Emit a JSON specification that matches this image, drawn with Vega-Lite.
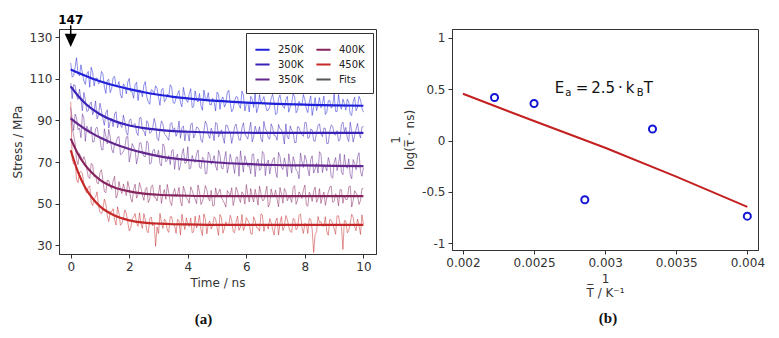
{
"$schema":"https://vega.github.io/schema/vega-lite/v6.json",
"background":"white",
"padding":{"left":10,"top":13,"right":5,"bottom":5},
"spacing":12,
"config":{
 "font":"DejaVu Sans",
 "view":{"stroke":"#333333","strokeWidth":1},
 "axis":{"grid":false,"labelFont":"DejaVu Sans","labelFontSize":12,"labelColor":"#333333","titleFont":"DejaVu Sans","titleFontSize":12,"titleFontWeight":"normal","titleColor":"#333333","tickColor":"#333333","domainColor":"#333333","tickSize":4,"labelPadding":3,"titlePadding":5,"titleLineHeight":14}
},
"datasets":{
"stress":[
{"T":"250K","t":0,"v":117.7},{"T":"250K","t":0.1,"v":111.5},{"T":"250K","t":0.2,"v":120.2},{"T":"250K","t":0.3,"v":111.5},{"T":"250K","t":0.4,"v":112.9},{"T":"250K","t":0.5,"v":107.4},{"T":"250K","t":0.6,"v":113.6},{"T":"250K","t":0.7,"v":115.6},{"T":"250K","t":0.8,"v":106.6},{"T":"250K","t":0.9,"v":110.5},
{"T":"250K","t":1.0,"v":108.3},{"T":"250K","t":1.1,"v":112.4},{"T":"250K","t":1.2,"v":103.0},{"T":"250K","t":1.3,"v":109.8},{"T":"250K","t":1.4,"v":105.4},{"T":"250K","t":1.5,"v":111.2},{"T":"250K","t":1.6,"v":106.7},{"T":"250K","t":1.7,"v":102.4},{"T":"250K","t":1.8,"v":107.6},{"T":"250K","t":1.9,"v":102.8},
{"T":"250K","t":2.0,"v":110.2},{"T":"250K","t":2.1,"v":103.8},{"T":"250K","t":2.2,"v":107.2},{"T":"250K","t":2.3,"v":99.6},{"T":"250K","t":2.4,"v":104.4},{"T":"250K","t":2.5,"v":107.0},{"T":"250K","t":2.6,"v":101.4},{"T":"250K","t":2.7,"v":97.8},{"T":"250K","t":2.8,"v":104.5},{"T":"250K","t":2.9,"v":106.7},
{"T":"250K","t":3.0,"v":101.0},{"T":"250K","t":3.1,"v":104.7},{"T":"250K","t":3.2,"v":99.0},{"T":"250K","t":3.3,"v":102.7},{"T":"250K","t":3.4,"v":107.2},{"T":"250K","t":3.5,"v":98.6},{"T":"250K","t":3.6,"v":101.0},{"T":"250K","t":3.7,"v":104.4},{"T":"250K","t":3.8,"v":96.6},{"T":"250K","t":3.9,"v":102.1},
{"T":"250K","t":4.0,"v":98.7},{"T":"250K","t":4.1,"v":105.3},{"T":"250K","t":4.2,"v":96.7},{"T":"250K","t":4.3,"v":100.4},{"T":"250K","t":4.4,"v":103.0},{"T":"250K","t":4.5,"v":94.9},{"T":"250K","t":4.6,"v":100.8},{"T":"250K","t":4.7,"v":103.4},{"T":"250K","t":4.8,"v":97.4},{"T":"250K","t":4.9,"v":98.8},
{"T":"250K","t":5.0,"v":103.7},{"T":"250K","t":5.1,"v":95.4},{"T":"250K","t":5.2,"v":101.3},{"T":"250K","t":5.3,"v":98.0},{"T":"250K","t":5.4,"v":104.5},{"T":"250K","t":5.5,"v":94.2},{"T":"250K","t":5.6,"v":99.5},{"T":"250K","t":5.7,"v":101.2},{"T":"250K","t":5.8,"v":95.9},{"T":"250K","t":5.9,"v":102.3},
{"T":"250K","t":6.0,"v":98.2},{"T":"250K","t":6.1,"v":94.1},{"T":"250K","t":6.2,"v":100.3},{"T":"250K","t":6.3,"v":103.3},{"T":"250K","t":6.4,"v":95.9},{"T":"250K","t":6.5,"v":98.4},{"T":"250K","t":6.6,"v":101.5},{"T":"250K","t":6.7,"v":94.8},{"T":"250K","t":6.8,"v":96.6},{"T":"250K","t":6.9,"v":102.6},
{"T":"250K","t":7.0,"v":92.8},{"T":"250K","t":7.1,"v":100.6},{"T":"250K","t":7.2,"v":98.3},{"T":"250K","t":7.3,"v":95.8},{"T":"250K","t":7.4,"v":101.6},{"T":"250K","t":7.5,"v":96.5},{"T":"250K","t":7.6,"v":102.8},{"T":"250K","t":7.7,"v":93.7},{"T":"250K","t":7.8,"v":99.2},{"T":"250K","t":7.9,"v":97.5},
{"T":"250K","t":8.0,"v":99.9},{"T":"250K","t":8.1,"v":93.8},{"T":"250K","t":8.2,"v":101.8},{"T":"250K","t":8.3,"v":96.5},{"T":"250K","t":8.4,"v":94.8},{"T":"250K","t":8.5,"v":101.0},{"T":"250K","t":8.6,"v":98.2},{"T":"250K","t":8.7,"v":92.9},{"T":"250K","t":8.8,"v":99.4},{"T":"250K","t":8.9,"v":95.9},
{"T":"250K","t":9.0,"v":102.7},{"T":"250K","t":9.1,"v":94.3},{"T":"250K","t":9.2,"v":97.3},{"T":"250K","t":9.3,"v":100.3},{"T":"250K","t":9.4,"v":95.0},{"T":"250K","t":9.5,"v":99.0},{"T":"250K","t":9.6,"v":92.4},{"T":"250K","t":9.7,"v":101.2},{"T":"250K","t":9.8,"v":96.4},{"T":"250K","t":9.9,"v":99.9},
{"T":"250K","t":10.0,"v":94.0},
{"T":"250K","t":0.05,"v":110.8},{"T":"250K","t":0.15,"v":115.6},{"T":"250K","t":0.25,"v":112.3},{"T":"250K","t":0.35,"v":116.8},{"T":"250K","t":0.45,"v":108.9},{"T":"250K","t":0.55,"v":112.4},{"T":"250K","t":0.65,"v":106.0},{"T":"250K","t":0.75,"v":113.2},{"T":"250K","t":0.85,"v":110.1},{"T":"250K","t":0.95,"v":107.6},
{"T":"250K","t":1.05,"v":113.6},{"T":"250K","t":1.15,"v":106.1},{"T":"250K","t":1.25,"v":109.3},{"T":"250K","t":1.35,"v":103.4},{"T":"250K","t":1.45,"v":110.6},{"T":"250K","t":1.55,"v":106.1},{"T":"250K","t":1.65,"v":108.7},{"T":"250K","t":1.75,"v":100.8},{"T":"250K","t":1.85,"v":106.5},{"T":"250K","t":1.95,"v":108.5},
{"T":"250K","t":2.05,"v":103.9},{"T":"250K","t":2.15,"v":100.7},{"T":"250K","t":2.25,"v":108.4},{"T":"250K","t":2.35,"v":104.7},{"T":"250K","t":2.45,"v":101.4},{"T":"250K","t":2.55,"v":108.7},{"T":"250K","t":2.65,"v":98.9},{"T":"250K","t":2.75,"v":104.8},{"T":"250K","t":2.85,"v":102.6},{"T":"250K","t":2.95,"v":105.4},
{"T":"250K","t":3.05,"v":97.3},{"T":"250K","t":3.15,"v":105.5},{"T":"250K","t":3.25,"v":100.1},{"T":"250K","t":3.35,"v":101.7},{"T":"250K","t":3.45,"v":106.1},{"T":"250K","t":3.55,"v":98.2},{"T":"250K","t":3.65,"v":102.6},{"T":"250K","t":3.75,"v":98.4},{"T":"250K","t":3.85,"v":105.9},{"T":"250K","t":3.95,"v":99.9},
{"T":"250K","t":4.05,"v":102.8},{"T":"250K","t":4.15,"v":96.2},{"T":"250K","t":4.25,"v":104.2},{"T":"250K","t":4.35,"v":98.9},{"T":"250K","t":4.45,"v":97.1},{"T":"250K","t":4.55,"v":104.6},{"T":"250K","t":4.65,"v":100.1},{"T":"250K","t":4.75,"v":97.7},{"T":"250K","t":4.85,"v":100.7},{"T":"250K","t":4.95,"v":94.6},
{"T":"250K","t":5.05,"v":102.7},{"T":"250K","t":5.15,"v":100.1},{"T":"250K","t":5.25,"v":96.5},{"T":"250K","t":5.35,"v":103.6},{"T":"250K","t":5.45,"v":98.2},{"T":"250K","t":5.55,"v":95.4},{"T":"250K","t":5.65,"v":101.5},{"T":"250K","t":5.75,"v":97.3},{"T":"250K","t":5.85,"v":104.1},{"T":"250K","t":5.95,"v":94.6},
{"T":"250K","t":6.05,"v":98.8},{"T":"250K","t":6.15,"v":101.6},{"T":"250K","t":6.25,"v":96.2},{"T":"250K","t":6.35,"v":93.8},{"T":"250K","t":6.45,"v":102.4},{"T":"250K","t":6.55,"v":99.9},{"T":"250K","t":6.65,"v":97.7},{"T":"250K","t":6.75,"v":94.9},{"T":"250K","t":6.85,"v":100.9},{"T":"250K","t":6.95,"v":98.6},
{"T":"250K","t":7.05,"v":93.5},{"T":"250K","t":7.15,"v":102.3},{"T":"250K","t":7.25,"v":96.8},{"T":"250K","t":7.35,"v":100.0},{"T":"250K","t":7.45,"v":94.0},{"T":"250K","t":7.55,"v":98.5},{"T":"250K","t":7.65,"v":101.5},{"T":"250K","t":7.75,"v":94.9},{"T":"250K","t":7.85,"v":97.6},{"T":"250K","t":7.95,"v":102.5},
{"T":"250K","t":8.05,"v":95.5},{"T":"250K","t":8.15,"v":98.9},{"T":"250K","t":8.25,"v":92.4},{"T":"250K","t":8.35,"v":101.0},{"T":"250K","t":8.45,"v":97.6},{"T":"250K","t":8.55,"v":96.1},{"T":"250K","t":8.65,"v":101.7},{"T":"250K","t":8.75,"v":94.0},{"T":"250K","t":8.85,"v":99.7},{"T":"250K","t":8.95,"v":97.0},
{"T":"250K","t":9.05,"v":94.4},{"T":"250K","t":9.15,"v":102.5},{"T":"250K","t":9.25,"v":95.4},{"T":"250K","t":9.35,"v":98.1},{"T":"250K","t":9.45,"v":100.3},{"T":"250K","t":9.55,"v":93.0},{"T":"250K","t":9.65,"v":99.2},{"T":"250K","t":9.75,"v":94.7},{"T":"250K","t":9.85,"v":101.6},{"T":"250K","t":9.95,"v":96.0},
{"T":"300K","t":0,"v":108.0},{"T":"300K","t":0.1,"v":107.2},{"T":"300K","t":0.2,"v":101.9},{"T":"300K","t":0.3,"v":105.1},{"T":"300K","t":0.4,"v":94.7},{"T":"300K","t":0.5,"v":99.9},{"T":"300K","t":0.6,"v":94.7},{"T":"300K","t":0.7,"v":98.9},{"T":"300K","t":0.8,"v":94.8},{"T":"300K","t":0.9,"v":90.8},
{"T":"300K","t":1.0,"v":98.3},{"T":"300K","t":1.1,"v":90.7},{"T":"300K","t":1.2,"v":93.5},{"T":"300K","t":1.3,"v":86.4},{"T":"300K","t":1.4,"v":91.0},{"T":"300K","t":1.5,"v":93.2},{"T":"300K","t":1.6,"v":86.5},{"T":"300K","t":1.7,"v":87.8},{"T":"300K","t":1.8,"v":92.6},{"T":"300K","t":1.9,"v":84.2},
{"T":"300K","t":2.0,"v":89.9},{"T":"300K","t":2.1,"v":87.1},{"T":"300K","t":2.2,"v":88.5},{"T":"300K","t":2.3,"v":82.8},{"T":"300K","t":2.4,"v":91.5},{"T":"300K","t":2.5,"v":85.0},{"T":"300K","t":2.6,"v":89.9},{"T":"300K","t":2.7,"v":83.8},{"T":"300K","t":2.8,"v":86.2},{"T":"300K","t":2.9,"v":88.2},
{"T":"300K","t":3.0,"v":80.3},{"T":"300K","t":3.1,"v":89.8},{"T":"300K","t":3.2,"v":83.6},{"T":"300K","t":3.3,"v":81.7},{"T":"300K","t":3.4,"v":88.2},{"T":"300K","t":3.5,"v":85.0},{"T":"300K","t":3.6,"v":82.4},{"T":"300K","t":3.7,"v":89.7},{"T":"300K","t":3.8,"v":86.5},{"T":"300K","t":3.9,"v":80.2},
{"T":"300K","t":4.0,"v":84.2},{"T":"300K","t":4.1,"v":88.1},{"T":"300K","t":4.2,"v":81.6},{"T":"300K","t":4.3,"v":86.8},{"T":"300K","t":4.4,"v":85.0},{"T":"300K","t":4.5,"v":79.5},{"T":"300K","t":4.6,"v":89.7},{"T":"300K","t":4.7,"v":83.2},{"T":"300K","t":4.8,"v":86.3},{"T":"300K","t":4.9,"v":80.3},
{"T":"300K","t":5.0,"v":88.5},{"T":"300K","t":5.1,"v":83.5},{"T":"300K","t":5.2,"v":82.0},{"T":"300K","t":5.3,"v":87.8},{"T":"300K","t":5.4,"v":85.1},{"T":"300K","t":5.5,"v":79.0},{"T":"300K","t":5.6,"v":87.0},{"T":"300K","t":5.7,"v":84.3},{"T":"300K","t":5.8,"v":80.5},{"T":"300K","t":5.9,"v":88.9},
{"T":"300K","t":6.0,"v":82.2},{"T":"300K","t":6.1,"v":85.3},{"T":"300K","t":6.2,"v":79.7},{"T":"300K","t":6.3,"v":87.3},{"T":"300K","t":6.4,"v":83.7},{"T":"300K","t":6.5,"v":81.2},{"T":"300K","t":6.6,"v":89.6},{"T":"300K","t":6.7,"v":84.9},{"T":"300K","t":6.8,"v":81.0},{"T":"300K","t":6.9,"v":86.5},
{"T":"300K","t":7.0,"v":82.6},{"T":"300K","t":7.1,"v":88.1},{"T":"300K","t":7.2,"v":85.6},{"T":"300K","t":7.3,"v":78.7},{"T":"300K","t":7.4,"v":82.0},{"T":"300K","t":7.5,"v":87.4},{"T":"300K","t":7.6,"v":84.5},{"T":"300K","t":7.7,"v":79.4},{"T":"300K","t":7.8,"v":86.8},{"T":"300K","t":7.9,"v":83.1},
{"T":"300K","t":8.0,"v":89.1},{"T":"300K","t":8.1,"v":81.4},{"T":"300K","t":8.2,"v":85.9},{"T":"300K","t":8.3,"v":80.3},{"T":"300K","t":8.4,"v":84.3},{"T":"300K","t":8.5,"v":88.4},{"T":"300K","t":8.6,"v":82.2},{"T":"300K","t":8.7,"v":86.2},{"T":"300K","t":8.8,"v":79.0},{"T":"300K","t":8.9,"v":87.9},
{"T":"300K","t":9.0,"v":83.4},{"T":"300K","t":9.1,"v":85.1},{"T":"300K","t":9.2,"v":80.7},{"T":"300K","t":9.3,"v":89.2},{"T":"300K","t":9.4,"v":86.7},{"T":"300K","t":9.5,"v":79.9},{"T":"300K","t":9.6,"v":84.8},{"T":"300K","t":9.7,"v":82.8},{"T":"300K","t":9.8,"v":88.6},{"T":"300K","t":9.9,"v":81.6},
{"T":"300K","t":10.0,"v":87.1},
{"T":"300K","t":0.05,"v":100.5},{"T":"300K","t":0.15,"v":107.0},{"T":"300K","t":0.25,"v":100.1},{"T":"300K","t":0.35,"v":100.4},{"T":"300K","t":0.45,"v":103.5},{"T":"300K","t":0.55,"v":94.4},{"T":"300K","t":0.65,"v":97.9},{"T":"300K","t":0.75,"v":92.8},{"T":"300K","t":0.85,"v":99.4},{"T":"300K","t":0.95,"v":92.7},
{"T":"300K","t":1.05,"v":94.8},{"T":"300K","t":1.15,"v":87.7},{"T":"300K","t":1.25,"v":95.1},{"T":"300K","t":1.35,"v":89.3},{"T":"300K","t":1.45,"v":87.0},{"T":"300K","t":1.55,"v":94.2},{"T":"300K","t":1.65,"v":89.3},{"T":"300K","t":1.75,"v":86.6},{"T":"300K","t":1.85,"v":89.3},{"T":"300K","t":1.95,"v":82.9},
{"T":"300K","t":2.05,"v":90.8},{"T":"300K","t":2.15,"v":88.0},{"T":"300K","t":2.25,"v":84.2},{"T":"300K","t":2.35,"v":91.2},{"T":"300K","t":2.45,"v":85.5},{"T":"300K","t":2.55,"v":82.6},{"T":"300K","t":2.65,"v":88.6},{"T":"300K","t":2.75,"v":84.4},{"T":"300K","t":2.85,"v":91.0},{"T":"300K","t":2.95,"v":81.5},
{"T":"300K","t":3.05,"v":85.6},{"T":"300K","t":3.15,"v":88.4},{"T":"300K","t":3.25,"v":82.9},{"T":"300K","t":3.35,"v":80.5},{"T":"300K","t":3.45,"v":89.0},{"T":"300K","t":3.55,"v":86.5},{"T":"300K","t":3.65,"v":84.3},{"T":"300K","t":3.75,"v":81.5},{"T":"300K","t":3.85,"v":87.4},{"T":"300K","t":3.95,"v":85.1},
{"T":"300K","t":4.05,"v":80.1},{"T":"300K","t":4.15,"v":88.8},{"T":"300K","t":4.25,"v":83.4},{"T":"300K","t":4.35,"v":86.5},{"T":"300K","t":4.45,"v":80.6},{"T":"300K","t":4.55,"v":85.0},{"T":"300K","t":4.65,"v":88.0},{"T":"300K","t":4.75,"v":81.5},{"T":"300K","t":4.85,"v":84.1},{"T":"300K","t":4.95,"v":89.0},
{"T":"300K","t":5.05,"v":82.1},{"T":"300K","t":5.15,"v":85.5},{"T":"300K","t":5.25,"v":79.0},{"T":"300K","t":5.35,"v":87.6},{"T":"300K","t":5.45,"v":84.2},{"T":"300K","t":5.55,"v":82.7},{"T":"300K","t":5.65,"v":88.3},{"T":"300K","t":5.75,"v":80.7},{"T":"300K","t":5.85,"v":86.4},{"T":"300K","t":5.95,"v":83.7},
{"T":"300K","t":6.05,"v":81.1},{"T":"300K","t":6.15,"v":89.1},{"T":"300K","t":6.25,"v":82.1},{"T":"300K","t":6.35,"v":84.8},{"T":"300K","t":6.45,"v":87.0},{"T":"300K","t":6.55,"v":79.7},{"T":"300K","t":6.65,"v":85.9},{"T":"300K","t":6.75,"v":81.5},{"T":"300K","t":6.85,"v":88.4},{"T":"300K","t":6.95,"v":82.8},
{"T":"300K","t":7.05,"v":80.5},{"T":"300K","t":7.15,"v":86.0},{"T":"300K","t":7.25,"v":83.3},{"T":"300K","t":7.35,"v":88.4},{"T":"300K","t":7.45,"v":81.1},{"T":"300K","t":7.55,"v":85.2},{"T":"300K","t":7.65,"v":79.3},{"T":"300K","t":7.75,"v":87.0},{"T":"300K","t":7.85,"v":84.4},{"T":"300K","t":7.95,"v":82.4},
{"T":"300K","t":8.05,"v":88.9},{"T":"300K","t":8.15,"v":81.8},{"T":"300K","t":8.25,"v":85.5},{"T":"300K","t":8.35,"v":80.0},{"T":"300K","t":8.45,"v":87.6},{"T":"300K","t":8.55,"v":83.5},{"T":"300K","t":8.65,"v":86.4},{"T":"300K","t":8.75,"v":78.9},{"T":"300K","t":8.85,"v":84.9},{"T":"300K","t":8.95,"v":87.2},
{"T":"300K","t":9.05,"v":83.0},{"T":"300K","t":9.15,"v":80.1},{"T":"300K","t":9.25,"v":88.1},{"T":"300K","t":9.35,"v":84.6},{"T":"300K","t":9.45,"v":81.6},{"T":"300K","t":9.55,"v":89.2},{"T":"300K","t":9.65,"v":79.6},{"T":"300K","t":9.75,"v":85.8},{"T":"300K","t":9.85,"v":83.8},{"T":"300K","t":9.95,"v":86.9},
{"T":"350K","t":0,"v":96.2},{"T":"350K","t":0.1,"v":85.2},{"T":"350K","t":0.2,"v":91.3},{"T":"350K","t":0.3,"v":86.4},{"T":"350K","t":0.4,"v":93.2},{"T":"350K","t":0.5,"v":80.0},{"T":"350K","t":0.6,"v":85.6},{"T":"350K","t":0.7,"v":87.0},{"T":"350K","t":0.8,"v":79.8},{"T":"350K","t":0.9,"v":86.8},
{"T":"350K","t":1.0,"v":81.3},{"T":"350K","t":1.1,"v":75.8},{"T":"350K","t":1.2,"v":82.6},{"T":"350K","t":1.3,"v":85.7},{"T":"350K","t":1.4,"v":76.2},{"T":"350K","t":1.5,"v":78.8},{"T":"350K","t":1.6,"v":81.9},{"T":"350K","t":1.7,"v":73.5},{"T":"350K","t":1.8,"v":75.2},{"T":"350K","t":1.9,"v":82.1},
{"T":"350K","t":2.0,"v":70.1},{"T":"350K","t":2.1,"v":78.9},{"T":"350K","t":2.2,"v":75.9},{"T":"350K","t":2.3,"v":72.6},{"T":"350K","t":2.4,"v":79.3},{"T":"350K","t":2.5,"v":72.8},{"T":"350K","t":2.6,"v":80.1},{"T":"350K","t":2.7,"v":69.0},{"T":"350K","t":2.8,"v":75.3},{"T":"350K","t":2.9,"v":73.0},
{"T":"350K","t":3.0,"v":75.7},{"T":"350K","t":3.1,"v":68.1},{"T":"350K","t":3.2,"v":77.5},{"T":"350K","t":3.3,"v":71.0},{"T":"350K","t":3.4,"v":68.8},{"T":"350K","t":3.5,"v":76.0},{"T":"350K","t":3.6,"v":72.4},{"T":"350K","t":3.7,"v":66.1},{"T":"350K","t":3.8,"v":73.7},{"T":"350K","t":3.9,"v":69.3},
{"T":"350K","t":4.0,"v":77.4},{"T":"350K","t":4.1,"v":67.1},{"T":"350K","t":4.2,"v":70.7},{"T":"350K","t":4.3,"v":74.1},{"T":"350K","t":4.4,"v":67.6},{"T":"350K","t":4.5,"v":72.3},{"T":"350K","t":4.6,"v":64.3},{"T":"350K","t":4.7,"v":74.9},{"T":"350K","t":4.8,"v":69.0},{"T":"350K","t":4.9,"v":73.1},
{"T":"350K","t":5.0,"v":66.0},{"T":"350K","t":5.1,"v":73.4},{"T":"350K","t":5.2,"v":66.7},{"T":"350K","t":5.3,"v":75.1},{"T":"350K","t":5.4,"v":68.1},{"T":"350K","t":5.5,"v":70.4},{"T":"350K","t":5.6,"v":64.5},{"T":"350K","t":5.7,"v":72.5},{"T":"350K","t":5.8,"v":75.4},{"T":"350K","t":5.9,"v":65.2},
{"T":"350K","t":6.0,"v":70.4},{"T":"350K","t":6.1,"v":68.4},{"T":"350K","t":6.2,"v":73.7},{"T":"350K","t":6.3,"v":63.0},{"T":"350K","t":6.4,"v":71.5},{"T":"350K","t":6.5,"v":66.7},{"T":"350K","t":6.6,"v":74.1},{"T":"350K","t":6.7,"v":69.2},{"T":"350K","t":6.8,"v":64.3},{"T":"350K","t":6.9,"v":71.0},
{"T":"350K","t":7.0,"v":65.5},{"T":"350K","t":7.1,"v":74.7},{"T":"350K","t":7.2,"v":67.5},{"T":"350K","t":7.3,"v":72.0},{"T":"350K","t":7.4,"v":63.0},{"T":"350K","t":7.5,"v":69.1},{"T":"350K","t":7.6,"v":72.6},{"T":"350K","t":7.7,"v":66.1},{"T":"350K","t":7.8,"v":62.0},{"T":"350K","t":7.9,"v":70.3},
{"T":"350K","t":8.0,"v":73.3},{"T":"350K","t":8.1,"v":66.7},{"T":"350K","t":8.2,"v":71.3},{"T":"350K","t":8.3,"v":64.7},{"T":"350K","t":8.4,"v":69.4},{"T":"350K","t":8.5,"v":75.0},{"T":"350K","t":8.6,"v":64.9},{"T":"350K","t":8.7,"v":67.8},{"T":"350K","t":8.8,"v":72.2},{"T":"350K","t":8.9,"v":63.0},
{"T":"350K","t":9.0,"v":69.8},{"T":"350K","t":9.1,"v":65.9},{"T":"350K","t":9.2,"v":74.0},{"T":"350K","t":9.3,"v":63.9},{"T":"350K","t":9.4,"v":68.3},{"T":"350K","t":9.5,"v":71.6},{"T":"350K","t":9.6,"v":62.0},{"T":"350K","t":9.7,"v":69.3},{"T":"350K","t":9.8,"v":72.5},{"T":"350K","t":9.9,"v":65.5},
{"T":"350K","t":10.0,"v":67.3},
{"T":"350K","t":0.05,"v":90.7},{"T":"350K","t":0.15,"v":93.1},{"T":"350K","t":0.25,"v":85.5},{"T":"350K","t":0.35,"v":81.7},{"T":"350K","t":0.45,"v":91.1},{"T":"350K","t":0.55,"v":87.3},{"T":"350K","t":0.65,"v":83.8},{"T":"350K","t":0.75,"v":79.7},{"T":"350K","t":0.85,"v":86.1},{"T":"350K","t":0.95,"v":82.8},
{"T":"350K","t":1.05,"v":76.1},{"T":"350K","t":1.15,"v":86.0},{"T":"350K","t":1.25,"v":78.8},{"T":"350K","t":1.35,"v":82.0},{"T":"350K","t":1.45,"v":74.4},{"T":"350K","t":1.55,"v":79.2},{"T":"350K","t":1.65,"v":82.3},{"T":"350K","t":1.75,"v":74.0},{"T":"350K","t":1.85,"v":76.8},{"T":"350K","t":1.95,"v":82.3},
{"T":"350K","t":2.05,"v":73.6},{"T":"350K","t":2.15,"v":77.2},{"T":"350K","t":2.25,"v":69.1},{"T":"350K","t":2.35,"v":79.1},{"T":"350K","t":2.45,"v":74.7},{"T":"350K","t":2.55,"v":72.6},{"T":"350K","t":2.65,"v":79.0},{"T":"350K","t":2.75,"v":69.6},{"T":"350K","t":2.85,"v":76.2},{"T":"350K","t":2.95,"v":72.6},
{"T":"350K","t":3.05,"v":69.2},{"T":"350K","t":3.15,"v":78.7},{"T":"350K","t":3.25,"v":70.1},{"T":"350K","t":3.35,"v":73.1},{"T":"350K","t":3.45,"v":75.5},{"T":"350K","t":3.55,"v":66.5},{"T":"350K","t":3.65,"v":73.9},{"T":"350K","t":3.75,"v":68.4},{"T":"350K","t":3.85,"v":76.5},{"T":"350K","t":3.95,"v":69.7},
{"T":"350K","t":4.05,"v":66.7},{"T":"350K","t":4.15,"v":73.2},{"T":"350K","t":4.25,"v":69.8},{"T":"350K","t":4.35,"v":75.8},{"T":"350K","t":4.45,"v":66.9},{"T":"350K","t":4.55,"v":71.7},{"T":"350K","t":4.65,"v":64.6},{"T":"350K","t":4.75,"v":73.7},{"T":"350K","t":4.85,"v":70.5},{"T":"350K","t":4.95,"v":68.0},
{"T":"350K","t":5.05,"v":75.7},{"T":"350K","t":5.15,"v":67.1},{"T":"350K","t":5.25,"v":71.4},{"T":"350K","t":5.35,"v":64.8},{"T":"350K","t":5.45,"v":73.8},{"T":"350K","t":5.55,"v":68.8},{"T":"350K","t":5.65,"v":72.3},{"T":"350K","t":5.75,"v":63.2},{"T":"350K","t":5.85,"v":70.3},{"T":"350K","t":5.95,"v":73.0},
{"T":"350K","t":6.05,"v":67.9},{"T":"350K","t":6.15,"v":64.4},{"T":"350K","t":6.25,"v":73.9},{"T":"350K","t":6.35,"v":69.7},{"T":"350K","t":6.45,"v":66.0},{"T":"350K","t":6.55,"v":75.1},{"T":"350K","t":6.65,"v":63.5},{"T":"350K","t":6.75,"v":71.0},{"T":"350K","t":6.85,"v":68.5},{"T":"350K","t":6.95,"v":72.2},
{"T":"350K","t":7.05,"v":62.6},{"T":"350K","t":7.15,"v":72.7},{"T":"350K","t":7.25,"v":66.4},{"T":"350K","t":7.35,"v":68.6},{"T":"350K","t":7.45,"v":74.0},{"T":"350K","t":7.55,"v":64.7},{"T":"350K","t":7.65,"v":70.2},{"T":"350K","t":7.75,"v":65.4},{"T":"350K","t":7.85,"v":74.4},{"T":"350K","t":7.95,"v":67.4},
{"T":"350K","t":8.05,"v":71.0},{"T":"350K","t":8.15,"v":63.4},{"T":"350K","t":8.25,"v":73.0},{"T":"350K","t":8.35,"v":66.7},{"T":"350K","t":8.45,"v":64.7},{"T":"350K","t":8.55,"v":73.9},{"T":"350K","t":8.65,"v":68.7},{"T":"350K","t":8.75,"v":65.8},{"T":"350K","t":8.85,"v":69.5},{"T":"350K","t":8.95,"v":62.3},
{"T":"350K","t":9.05,"v":72.2},{"T":"350K","t":9.15,"v":69.2},{"T":"350K","t":9.25,"v":65.0},{"T":"350K","t":9.35,"v":73.6},{"T":"350K","t":9.45,"v":67.0},{"T":"350K","t":9.55,"v":63.8},{"T":"350K","t":9.65,"v":71.2},{"T":"350K","t":9.75,"v":66.3},{"T":"350K","t":9.85,"v":74.5},{"T":"350K","t":9.95,"v":63.2},
{"T":"400K","t":0,"v":92.0},{"T":"400K","t":0.1,"v":83.1},{"T":"400K","t":0.2,"v":71.2},{"T":"400K","t":0.3,"v":74.1},{"T":"400K","t":0.4,"v":70.2},{"T":"400K","t":0.5,"v":70.7},{"T":"400K","t":0.6,"v":62.9},{"T":"400K","t":0.7,"v":69.4},{"T":"400K","t":0.8,"v":62.8},{"T":"400K","t":0.9,"v":59.9},
{"T":"400K","t":1.0,"v":65.0},{"T":"400K","t":1.1,"v":61.3},{"T":"400K","t":1.2,"v":55.3},{"T":"400K","t":1.3,"v":61.1},{"T":"400K","t":1.4,"v":56.9},{"T":"400K","t":1.5,"v":63.2},{"T":"400K","t":1.6,"v":54.3},{"T":"400K","t":1.7,"v":56.9},{"T":"400K","t":1.8,"v":59.5},{"T":"400K","t":1.9,"v":53.9},
{"T":"400K","t":2.0,"v":57.6},{"T":"400K","t":2.1,"v":50.7},{"T":"400K","t":2.2,"v":59.4},{"T":"400K","t":2.3,"v":54.4},{"T":"400K","t":2.4,"v":57.7},{"T":"400K","t":2.5,"v":51.6},{"T":"400K","t":2.6,"v":57.8},{"T":"400K","t":2.7,"v":52.2},{"T":"400K","t":2.8,"v":59.0},{"T":"400K","t":2.9,"v":53.1},
{"T":"400K","t":3.0,"v":55.1},{"T":"400K","t":3.1,"v":50.1},{"T":"400K","t":3.2,"v":56.8},{"T":"400K","t":3.3,"v":59.3},{"T":"400K","t":3.4,"v":50.7},{"T":"400K","t":3.5,"v":55.1},{"T":"400K","t":3.6,"v":53.3},{"T":"400K","t":3.7,"v":57.8},{"T":"400K","t":3.8,"v":48.9},{"T":"400K","t":3.9,"v":56.0},
{"T":"400K","t":4.0,"v":52.0},{"T":"400K","t":4.1,"v":58.1},{"T":"400K","t":4.2,"v":54.0},{"T":"400K","t":4.3,"v":50.0},{"T":"400K","t":4.4,"v":55.6},{"T":"400K","t":4.5,"v":51.1},{"T":"400K","t":4.6,"v":58.7},{"T":"400K","t":4.7,"v":52.7},{"T":"400K","t":4.8,"v":56.4},{"T":"400K","t":4.9,"v":49.0},
{"T":"400K","t":5.0,"v":54.1},{"T":"400K","t":5.1,"v":57.0},{"T":"400K","t":5.2,"v":51.6},{"T":"400K","t":5.3,"v":48.3},{"T":"400K","t":5.4,"v":55.2},{"T":"400K","t":5.5,"v":57.7},{"T":"400K","t":5.6,"v":52.2},{"T":"400K","t":5.7,"v":56.1},{"T":"400K","t":5.8,"v":50.6},{"T":"400K","t":5.9,"v":54.5},
{"T":"400K","t":6.0,"v":59.2},{"T":"400K","t":6.1,"v":50.8},{"T":"400K","t":6.2,"v":53.3},{"T":"400K","t":6.3,"v":56.9},{"T":"400K","t":6.4,"v":49.3},{"T":"400K","t":6.5,"v":54.9},{"T":"400K","t":6.6,"v":51.7},{"T":"400K","t":6.7,"v":58.4},{"T":"400K","t":6.8,"v":50.0},{"T":"400K","t":6.9,"v":53.8},
{"T":"400K","t":7.0,"v":56.5},{"T":"400K","t":7.1,"v":48.5},{"T":"400K","t":7.2,"v":54.6},{"T":"400K","t":7.3,"v":57.3},{"T":"400K","t":7.4,"v":51.4},{"T":"400K","t":7.5,"v":52.9},{"T":"400K","t":7.6,"v":57.9},{"T":"400K","t":7.7,"v":49.7},{"T":"400K","t":7.8,"v":55.7},{"T":"400K","t":7.9,"v":52.5},
{"T":"400K","t":8.0,"v":59.0},{"T":"400K","t":8.1,"v":48.8},{"T":"400K","t":8.2,"v":54.2},{"T":"400K","t":8.3,"v":56.0},{"T":"400K","t":8.4,"v":50.7},{"T":"400K","t":8.5,"v":57.2},{"T":"400K","t":8.6,"v":53.2},{"T":"400K","t":8.7,"v":49.2},{"T":"400K","t":8.8,"v":55.4},{"T":"400K","t":8.9,"v":58.5},
{"T":"400K","t":9.0,"v":51.1},{"T":"400K","t":9.1,"v":53.7},{"T":"400K","t":9.2,"v":56.8},{"T":"400K","t":9.3,"v":50.2},{"T":"400K","t":9.4,"v":52.0},{"T":"400K","t":9.5,"v":58.1},{"T":"400K","t":9.6,"v":48.4},{"T":"400K","t":9.7,"v":56.2},{"T":"400K","t":9.8,"v":54.0},{"T":"400K","t":9.9,"v":51.5},
{"T":"400K","t":10.0,"v":57.4},
{"T":"400K","t":0.05,"v":86.0},{"T":"400K","t":0.15,"v":79.1},{"T":"400K","t":0.25,"v":68.8},{"T":"400K","t":0.35,"v":72.4},{"T":"400K","t":0.45,"v":72.6},{"T":"400K","t":0.55,"v":66.6},{"T":"400K","t":0.65,"v":62.1},{"T":"400K","t":0.75,"v":68.6},{"T":"400K","t":0.85,"v":63.8},{"T":"400K","t":0.95,"v":59.7},
{"T":"400K","t":1.05,"v":66.3},{"T":"400K","t":1.15,"v":55.8},{"T":"400K","t":1.25,"v":61.3},{"T":"400K","t":1.35,"v":58.6},{"T":"400K","t":1.45,"v":61.1},{"T":"400K","t":1.55,"v":52.7},{"T":"400K","t":1.65,"v":60.6},{"T":"400K","t":1.75,"v":54.9},{"T":"400K","t":1.85,"v":56.4},{"T":"400K","t":1.95,"v":60.7},
{"T":"400K","t":2.05,"v":52.6},{"T":"400K","t":2.15,"v":56.9},{"T":"400K","t":2.25,"v":52.7},{"T":"400K","t":2.35,"v":60.1},{"T":"400K","t":2.45,"v":54.1},{"T":"400K","t":2.55,"v":57.0},{"T":"400K","t":2.65,"v":50.5},{"T":"400K","t":2.75,"v":58.4},{"T":"400K","t":2.85,"v":53.1},{"T":"400K","t":2.95,"v":51.3},
{"T":"400K","t":3.05,"v":59.0},{"T":"400K","t":3.15,"v":54.5},{"T":"400K","t":3.25,"v":52.1},{"T":"400K","t":3.35,"v":55.2},{"T":"400K","t":3.45,"v":49.1},{"T":"400K","t":3.55,"v":57.3},{"T":"400K","t":3.65,"v":54.7},{"T":"400K","t":3.75,"v":51.2},{"T":"400K","t":3.85,"v":58.4},{"T":"400K","t":3.95,"v":52.9},
{"T":"400K","t":4.05,"v":50.2},{"T":"400K","t":4.15,"v":56.3},{"T":"400K","t":4.25,"v":52.2},{"T":"400K","t":4.35,"v":59.0},{"T":"400K","t":4.45,"v":49.6},{"T":"400K","t":4.55,"v":53.9},{"T":"400K","t":4.65,"v":56.7},{"T":"400K","t":4.75,"v":51.3},{"T":"400K","t":4.85,"v":49.0},{"T":"400K","t":4.95,"v":57.6},
{"T":"400K","t":5.05,"v":55.2},{"T":"400K","t":5.15,"v":53.0},{"T":"400K","t":5.25,"v":50.3},{"T":"400K","t":5.35,"v":56.3},{"T":"400K","t":5.45,"v":54.1},{"T":"400K","t":5.55,"v":49.1},{"T":"400K","t":5.65,"v":57.9},{"T":"400K","t":5.75,"v":52.5},{"T":"400K","t":5.85,"v":55.7},{"T":"400K","t":5.95,"v":49.8},
{"T":"400K","t":6.05,"v":54.3},{"T":"400K","t":6.15,"v":57.3},{"T":"400K","t":6.25,"v":50.8},{"T":"400K","t":6.35,"v":53.5},{"T":"400K","t":6.45,"v":58.4},{"T":"400K","t":6.55,"v":51.5},{"T":"400K","t":6.65,"v":54.9},{"T":"400K","t":6.75,"v":48.4},{"T":"400K","t":6.85,"v":57.1},{"T":"400K","t":6.95,"v":53.7},
{"T":"400K","t":7.05,"v":52.2},{"T":"400K","t":7.15,"v":57.8},{"T":"400K","t":7.25,"v":50.2},{"T":"400K","t":7.35,"v":55.9},{"T":"400K","t":7.45,"v":53.2},{"T":"400K","t":7.55,"v":50.6},{"T":"400K","t":7.65,"v":58.7},{"T":"400K","t":7.75,"v":51.7},{"T":"400K","t":7.85,"v":54.4},{"T":"400K","t":7.95,"v":56.6},
{"T":"400K","t":8.05,"v":49.3},{"T":"400K","t":8.15,"v":55.5},{"T":"400K","t":8.25,"v":51.1},{"T":"400K","t":8.35,"v":58.0},{"T":"400K","t":8.45,"v":52.4},{"T":"400K","t":8.55,"v":50.1},{"T":"400K","t":8.65,"v":55.6},{"T":"400K","t":8.75,"v":52.9},{"T":"400K","t":8.85,"v":58.0},{"T":"400K","t":8.95,"v":50.7},
{"T":"400K","t":9.05,"v":54.8},{"T":"400K","t":9.15,"v":48.9},{"T":"400K","t":9.25,"v":56.6},{"T":"400K","t":9.35,"v":54.0},{"T":"400K","t":9.45,"v":52.0},{"T":"400K","t":9.55,"v":58.5},{"T":"400K","t":9.65,"v":51.4},{"T":"400K","t":9.75,"v":55.1},{"T":"400K","t":9.85,"v":49.6},{"T":"400K","t":9.95,"v":57.2},
{"T":"450K","t":0,"v":99.0},{"T":"450K","t":0.1,"v":69.0},{"T":"450K","t":0.2,"v":61.7},{"T":"450K","t":0.3,"v":65.1},{"T":"450K","t":0.4,"v":64.5},{"T":"450K","t":0.5,"v":56.3},{"T":"450K","t":0.6,"v":57.9},{"T":"450K","t":0.7,"v":50.4},{"T":"450K","t":0.8,"v":52.5},{"T":"450K","t":0.9,"v":55.7},
{"T":"450K","t":1.0,"v":45.9},{"T":"450K","t":1.1,"v":47.3},{"T":"450K","t":1.2,"v":49.9},{"T":"450K","t":1.3,"v":41.4},{"T":"450K","t":1.4,"v":46.2},{"T":"450K","t":1.5,"v":42.4},{"T":"450K","t":1.6,"v":48.5},{"T":"450K","t":1.7,"v":39.6},{"T":"450K","t":1.8,"v":42.9},{"T":"450K","t":1.9,"v":45.3},
{"T":"450K","t":2.0,"v":36.9},{"T":"450K","t":2.1,"v":42.7},{"T":"450K","t":2.2,"v":45.2},{"T":"450K","t":2.3,"v":39.1},{"T":"450K","t":2.4,"v":40.4},{"T":"450K","t":2.5,"v":45.2},{"T":"450K","t":2.6,"v":36.9},{"T":"450K","t":2.7,"v":42.7},{"T":"450K","t":2.8,"v":39.4},{"T":"450K","t":2.9,"v":29.5},
{"T":"450K","t":3.0,"v":35.6},{"T":"450K","t":3.1,"v":40.9},{"T":"450K","t":3.2,"v":42.6},{"T":"450K","t":3.3,"v":37.3},{"T":"450K","t":3.4,"v":43.7},{"T":"450K","t":3.5,"v":39.7},{"T":"450K","t":3.6,"v":35.7},{"T":"450K","t":3.7,"v":41.8},{"T":"450K","t":3.8,"v":44.9},{"T":"450K","t":3.9,"v":37.5},
{"T":"450K","t":4.0,"v":40.1},{"T":"450K","t":4.1,"v":43.1},{"T":"450K","t":4.2,"v":36.5},{"T":"450K","t":4.3,"v":38.3},{"T":"450K","t":4.4,"v":44.4},{"T":"450K","t":4.5,"v":34.7},{"T":"450K","t":4.6,"v":42.5},{"T":"450K","t":4.7,"v":40.3},{"T":"450K","t":4.8,"v":37.8},{"T":"450K","t":4.9,"v":43.7},
{"T":"450K","t":5.0,"v":38.6},{"T":"450K","t":5.1,"v":44.8},{"T":"450K","t":5.2,"v":35.8},{"T":"450K","t":5.3,"v":41.3},{"T":"450K","t":5.4,"v":39.6},{"T":"450K","t":5.5,"v":42.1},{"T":"450K","t":5.6,"v":36.0},{"T":"450K","t":5.7,"v":44.0},{"T":"450K","t":5.8,"v":38.8},{"T":"450K","t":5.9,"v":37.1},
{"T":"450K","t":6.0,"v":43.3},{"T":"450K","t":6.1,"v":40.5},{"T":"450K","t":6.2,"v":35.3},{"T":"450K","t":6.3,"v":41.8},{"T":"450K","t":6.4,"v":38.3},{"T":"450K","t":6.5,"v":45.1},{"T":"450K","t":6.6,"v":36.7},{"T":"450K","t":6.7,"v":39.8},{"T":"450K","t":6.8,"v":42.8},{"T":"450K","t":6.9,"v":37.5},
{"T":"450K","t":7.0,"v":41.5},{"T":"450K","t":7.1,"v":34.9},{"T":"450K","t":7.2,"v":43.8},{"T":"450K","t":7.3,"v":39.0},{"T":"450K","t":7.4,"v":42.5},{"T":"450K","t":7.5,"v":36.6},{"T":"450K","t":7.6,"v":42.9},{"T":"450K","t":7.7,"v":37.4},{"T":"450K","t":7.8,"v":44.4},{"T":"450K","t":7.9,"v":38.6},
{"T":"450K","t":8.0,"v":40.6},{"T":"450K","t":8.1,"v":35.7},{"T":"450K","t":8.2,"v":42.5},{"T":"450K","t":8.3,"v":26.5},{"T":"450K","t":8.4,"v":36.5},{"T":"450K","t":8.5,"v":40.9},{"T":"450K","t":8.6,"v":39.2},{"T":"450K","t":8.7,"v":43.7},{"T":"450K","t":8.8,"v":34.8},{"T":"450K","t":8.9,"v":42.0},
{"T":"450K","t":9.0,"v":38.0},{"T":"450K","t":9.1,"v":44.2},{"T":"450K","t":9.2,"v":40.1},{"T":"450K","t":9.3,"v":28.0},{"T":"450K","t":9.4,"v":41.7},{"T":"450K","t":9.5,"v":37.2},{"T":"450K","t":9.6,"v":44.9},{"T":"450K","t":9.7,"v":38.9},{"T":"450K","t":9.8,"v":42.6},{"T":"450K","t":9.9,"v":35.2},
{"T":"450K","t":10.0,"v":40.3},
{"T":"450K","t":0.05,"v":71.3},{"T":"450K","t":0.15,"v":70.3},{"T":"450K","t":0.25,"v":60.1},{"T":"450K","t":0.35,"v":65.5},{"T":"450K","t":0.45,"v":59.2},{"T":"450K","t":0.55,"v":55.2},{"T":"450K","t":0.65,"v":58.6},{"T":"450K","t":0.75,"v":49.1},{"T":"450K","t":0.85,"v":53.2},{"T":"450K","t":0.95,"v":49.0},
{"T":"450K","t":1.05,"v":45.2},{"T":"450K","t":1.15,"v":52.2},{"T":"450K","t":1.25,"v":44.3},{"T":"450K","t":1.35,"v":46.1},{"T":"450K","t":1.45,"v":47.6},{"T":"450K","t":1.55,"v":39.7},{"T":"450K","t":1.65,"v":45.4},{"T":"450K","t":1.75,"v":40.5},{"T":"450K","t":1.85,"v":47.0},{"T":"450K","t":1.95,"v":41.0},
{"T":"450K","t":2.05,"v":38.4},{"T":"450K","t":2.15,"v":43.6},{"T":"450K","t":2.25,"v":40.7},{"T":"450K","t":2.35,"v":45.6},{"T":"450K","t":2.45,"v":38.1},{"T":"450K","t":2.55,"v":42.1},{"T":"450K","t":2.65,"v":36.0},{"T":"450K","t":2.75,"v":43.6},{"T":"450K","t":2.85,"v":40.9},{"T":"450K","t":2.95,"v":38.8},
{"T":"450K","t":3.05,"v":45.3},{"T":"450K","t":3.15,"v":38.1},{"T":"450K","t":3.25,"v":41.7},{"T":"450K","t":3.35,"v":36.2},{"T":"450K","t":3.45,"v":43.7},{"T":"450K","t":3.55,"v":39.6},{"T":"450K","t":3.65,"v":42.5},{"T":"450K","t":3.75,"v":34.9},{"T":"450K","t":3.85,"v":40.9},{"T":"450K","t":3.95,"v":43.2},
{"T":"450K","t":4.05,"v":39.0},{"T":"450K","t":4.15,"v":36.0},{"T":"450K","t":4.25,"v":44.0},{"T":"450K","t":4.35,"v":40.5},{"T":"450K","t":4.45,"v":37.5},{"T":"450K","t":4.55,"v":45.1},{"T":"450K","t":4.65,"v":35.5},{"T":"450K","t":4.75,"v":41.7},{"T":"450K","t":4.85,"v":39.7},{"T":"450K","t":4.95,"v":42.8},
{"T":"450K","t":5.05,"v":34.8},{"T":"450K","t":5.15,"v":43.2},{"T":"450K","t":5.25,"v":38.0},{"T":"450K","t":5.35,"v":39.8},{"T":"450K","t":5.45,"v":44.4},{"T":"450K","t":5.55,"v":36.6},{"T":"450K","t":5.65,"v":41.2},{"T":"450K","t":5.75,"v":37.2},{"T":"450K","t":5.85,"v":44.8},{"T":"450K","t":5.95,"v":39.0},
{"T":"450K","t":6.05,"v":42.0},{"T":"450K","t":6.15,"v":35.6},{"T":"450K","t":6.25,"v":43.7},{"T":"450K","t":6.35,"v":38.5},{"T":"450K","t":6.45,"v":36.8},{"T":"450K","t":6.55,"v":44.5},{"T":"450K","t":6.65,"v":40.1},{"T":"450K","t":6.75,"v":37.8},{"T":"450K","t":6.85,"v":40.9},{"T":"450K","t":6.95,"v":34.9},
{"T":"450K","t":7.05,"v":43.1},{"T":"450K","t":7.15,"v":40.6},{"T":"450K","t":7.25,"v":37.1},{"T":"450K","t":7.35,"v":44.3},{"T":"450K","t":7.45,"v":38.9},{"T":"450K","t":7.55,"v":36.2},{"T":"450K","t":7.65,"v":42.4},{"T":"450K","t":7.75,"v":38.3},{"T":"450K","t":7.85,"v":45.1},{"T":"450K","t":7.95,"v":35.7},
{"T":"450K","t":8.05,"v":40.0},{"T":"450K","t":8.15,"v":42.9},{"T":"450K","t":8.25,"v":37.5},{"T":"450K","t":8.35,"v":35.2},{"T":"450K","t":8.45,"v":43.8},{"T":"450K","t":8.55,"v":41.4},{"T":"450K","t":8.65,"v":39.2},{"T":"450K","t":8.75,"v":36.5},{"T":"450K","t":8.85,"v":42.5},{"T":"450K","t":8.95,"v":40.3},
{"T":"450K","t":9.05,"v":35.3},{"T":"450K","t":9.15,"v":44.1},{"T":"450K","t":9.25,"v":38.7},{"T":"450K","t":9.35,"v":41.9},{"T":"450K","t":9.45,"v":36.0},{"T":"450K","t":9.55,"v":40.5},{"T":"450K","t":9.65,"v":43.5},{"T":"450K","t":9.75,"v":37.0},{"T":"450K","t":9.85,"v":39.7},{"T":"450K","t":9.95,"v":44.6}
],
"fits":[
{"T":"250K","t":0,"v":114.6},{"T":"250K","t":0.25,"v":113.0},{"T":"250K","t":0.5,"v":111.5},{"T":"250K","t":0.75,"v":110.1},{"T":"250K","t":1,"v":108.9},{"T":"250K","t":1.5,"v":106.8},{"T":"250K","t":2,"v":105.1},{"T":"250K","t":2.5,"v":103.6},{"T":"250K","t":3,"v":102.4},{"T":"250K","t":3.5,"v":101.4},{"T":"250K","t":4,"v":100.6},{"T":"250K","t":5,"v":99.4},{"T":"250K","t":6,"v":98.6},{"T":"250K","t":7,"v":98.0},{"T":"250K","t":8,"v":97.6},{"T":"250K","t":9,"v":97.3},{"T":"250K","t":10,"v":97.1},
{"T":"300K","t":0,"v":106.4},{"T":"300K","t":0.25,"v":101.9},{"T":"300K","t":0.5,"v":98.2},{"T":"300K","t":0.75,"v":95.3},{"T":"300K","t":1,"v":93.0},{"T":"300K","t":1.5,"v":89.7},{"T":"300K","t":2,"v":87.6},{"T":"300K","t":2.5,"v":86.3},{"T":"300K","t":3,"v":85.5},{"T":"300K","t":3.5,"v":84.9},{"T":"300K","t":4,"v":84.6},{"T":"300K","t":5,"v":84.2},{"T":"300K","t":6,"v":84.1},{"T":"300K","t":7,"v":84.0},{"T":"300K","t":8,"v":84.0},{"T":"300K","t":9,"v":84.0},{"T":"300K","t":10,"v":84.0},
{"T":"350K","t":0,"v":91.0},{"T":"350K","t":0.25,"v":88.2},{"T":"350K","t":0.5,"v":85.8},{"T":"350K","t":0.75,"v":83.7},{"T":"350K","t":1,"v":81.8},{"T":"350K","t":1.5,"v":78.7},{"T":"350K","t":2,"v":76.3},{"T":"350K","t":2.5,"v":74.4},{"T":"350K","t":3,"v":72.9},{"T":"350K","t":3.5,"v":71.8},{"T":"350K","t":4,"v":71.0},{"T":"350K","t":5,"v":69.8},{"T":"350K","t":6,"v":69.1},{"T":"350K","t":7,"v":68.6},{"T":"350K","t":8,"v":68.4},{"T":"350K","t":9,"v":68.2},{"T":"350K","t":10,"v":68.1},
{"T":"400K","t":0,"v":81.3},{"T":"400K","t":0.25,"v":73.9},{"T":"400K","t":0.5,"v":68.4},{"T":"400K","t":0.75,"v":64.5},{"T":"400K","t":1,"v":61.5},{"T":"400K","t":1.5,"v":57.8},{"T":"400K","t":2,"v":55.9},{"T":"400K","t":2.5,"v":54.8},{"T":"400K","t":3,"v":54.3},{"T":"400K","t":3.5,"v":54.0},{"T":"400K","t":4,"v":53.8},{"T":"400K","t":5,"v":53.6},{"T":"400K","t":6,"v":53.6},{"T":"400K","t":7,"v":53.6},{"T":"400K","t":8,"v":53.6},{"T":"400K","t":9,"v":53.6},{"T":"400K","t":10,"v":53.6},
{"T":"450K","t":0,"v":75.7},{"T":"450K","t":0.25,"v":65.2},{"T":"450K","t":0.5,"v":57.7},{"T":"450K","t":0.75,"v":52.5},{"T":"450K","t":1,"v":48.7},{"T":"450K","t":1.5,"v":44.3},{"T":"450K","t":2,"v":42.0},{"T":"450K","t":2.5,"v":40.9},{"T":"450K","t":3,"v":40.4},{"T":"450K","t":3.5,"v":40.1},{"T":"450K","t":4,"v":40.0},{"T":"450K","t":5,"v":39.8},{"T":"450K","t":6,"v":39.8},{"T":"450K","t":7,"v":39.8},{"T":"450K","t":8,"v":39.8},{"T":"450K","t":9,"v":39.8},{"T":"450K","t":10,"v":39.8}
],
"rates":[
{"invT":0.002222,"lograte":0.419},{"invT":0.0025,"lograte":0.361},{"invT":0.002857,"lograte":-0.576},{"invT":0.003333,"lograte":0.112},{"invT":0.004,"lograte":-0.735}
],
"fitline":[
{"invT":0.002,"lograte":0.455},{"invT":0.0025,"lograte":0.19},{"invT":0.003,"lograte":-0.07},{"invT":0.0035,"lograte":-0.35},{"invT":0.004,"lograte":-0.645}
]
},
"hconcat":[
{
 "width":317,"height":225,
 "title":{"text":"(a)","orient":"bottom","font":"Liberation Serif","fontSize":15,"fontWeight":"bold","color":"#111111","offset":24,"anchor":"middle","frame":"group","dx":-14},
 "layer":[
  {"data":{"name":"stress"},
   "mark":{"type":"line","strokeWidth":1,"opacity":0.5},
   "encoding":{
    "x":{"field":"t","type":"quantitative","scale":{"domain":[-0.4,10.43],"nice":false,"zero":false},"axis":{"values":[0,2,4,6,8,10],"title":"Time / ns"}},
    "y":{"field":"v","type":"quantitative","scale":{"domain":[25.8,134],"nice":false,"zero":false},"axis":{"values":[30,50,70,90,110,130],"title":"Stress / MPa"}},
    "color":{"field":"T","type":"nominal","scale":{"domain":["250K","300K","350K","400K","450K","Fits"],"range":["#2020d8","#3a22b8","#62268e","#86245e","#c42828","#555555"]},
      "legend":{"orient":"none","legendX":187,"legendY":4,"columns":2,"title":null,"fillColor":"white","strokeColor":"#333333","padding":8,"labelFont":"DejaVu Sans","labelFontSize":10,"labelColor":"#222222","symbolType":"stroke","symbolStrokeWidth":2,"symbolSize":200,"symbolOpacity":1,"columnPadding":8,"rowPadding":1,"labelOffset":7}}
   }},
  {"data":{"name":"fits"},
   "mark":{"type":"line","strokeWidth":2.2,"interpolate":"monotone"},
   "encoding":{
    "x":{"field":"t","type":"quantitative"},
    "y":{"field":"v","type":"quantitative"},
    "color":{"field":"T","type":"nominal","scale":{"domain":["250K","300K","350K","400K","450K","Fits"],"range":["#2020d8","#3a22b8","#62268e","#86245e","#c42828","#555555"]},
      "legend":{"orient":"none","legendX":187,"legendY":4,"columns":2,"title":null,"fillColor":"white","strokeColor":"#333333","padding":8,"labelFont":"DejaVu Sans","labelFontSize":10,"labelColor":"#222222","symbolType":"stroke","symbolStrokeWidth":2,"symbolSize":200,"symbolOpacity":1,"columnPadding":8,"rowPadding":1,"labelOffset":7}}
   }},
  {"data":{"values":[{"k":1}]},
   "mark":{"type":"rule","strokeWidth":1.5,"color":"black"},
   "encoding":{"x":{"datum":0},"y":{"datum":135.8},"y2":{"datum":131.0}}},
  {"data":{"values":[{"k":1}]},
   "mark":{"type":"point","shape":"M-1,-1.1L1,-1.1L0,1.1Z","filled":true,"color":"black","size":144,"opacity":1},
   "encoding":{"x":{"datum":0},"y":{"datum":128.5}}},
  {"data":{"values":[{"label":"147"}]},
   "mark":{"type":"text","fontWeight":"bold","font":"DejaVu Sans","fontSize":12,"baseline":"alphabetic","align":"center","color":"black"},
   "encoding":{"x":{"datum":0},"y":{"datum":136.4},"text":{"field":"label"}}}
 ]
},
{
 "width":306,"height":221,
 "title":{"text":"(b)","orient":"bottom","font":"Liberation Serif","fontSize":15,"fontWeight":"bold","color":"#111111","offset":13,"anchor":"middle","frame":"group","dx":3},
 "layer":[
  {"data":{"name":"fitline"},
   "mark":{"type":"line","color":"#c42020","strokeWidth":2},
   "encoding":{
    "x":{"field":"invT","type":"quantitative","scale":{"domain":[0.001923,0.004075],"nice":false,"zero":false},"axis":{"values":[0.002,0.0025,0.003,0.0035,0.004],"format":"~f","title":["1\u00a0\u00a0\u00a0\u00a0\u00a0\u00a0\u00a0\u00a0","T\u0305 / K\u207b\u00b9"]}},
    "y":{"field":"lograte","type":"quantitative","scale":{"domain":[-1.064,1.085],"nice":false,"zero":false},"axis":{"values":[-1,-0.5,0,0.5,1],"format":"~f","labelExpr":"replace(datum.label, '\u2212', '-')","title":["1\u00a0\u00a0","log(\u03c4\u0305 \u00b7 ns)"]}}
   }},
  {"data":{"name":"rates"},
   "mark":{"type":"point","shape":"circle","filled":false,"strokeWidth":2,"size":50,"color":"#1515d5","opacity":1},
   "encoding":{
    "x":{"field":"invT","type":"quantitative"},
    "y":{"field":"lograte","type":"quantitative"}
   }},
  {"data":{"values":[{"label":"E"}]},
   "mark":{"type":"text","font":"DejaVu Sans","fontSize":15,"align":"left","baseline":"alphabetic","color":"#111111"},
   "encoding":{"x":{"datum":0.002645},"y":{"datum":0.458},"text":{"field":"label"}}},
  {"data":{"values":[{"label":"a"}]},
   "mark":{"type":"text","font":"DejaVu Sans","fontSize":10,"align":"left","baseline":"alphabetic","dx":10.5,"dy":3,"color":"#111111"},
   "encoding":{"x":{"datum":0.002645},"y":{"datum":0.458},"text":{"field":"label"}}},
  {"data":{"values":[{"label":"=\u20092.5\u2009\u00b7\u2009k"}]},
   "mark":{"type":"text","font":"DejaVu Sans","fontSize":15,"align":"left","baseline":"alphabetic","dx":21,"color":"#111111"},
   "encoding":{"x":{"datum":0.002645},"y":{"datum":0.458},"text":{"field":"label"}}},
  {"data":{"values":[{"label":"B"}]},
   "mark":{"type":"text","font":"DejaVu Sans","fontSize":10,"align":"left","baseline":"alphabetic","dx":82,"dy":3,"color":"#111111"},
   "encoding":{"x":{"datum":0.002645},"y":{"datum":0.458},"text":{"field":"label"}}},
  {"data":{"values":[{"label":"T"}]},
   "mark":{"type":"text","font":"DejaVu Sans","fontSize":15,"align":"left","baseline":"alphabetic","dx":89,"color":"#111111"},
   "encoding":{"x":{"datum":0.002645},"y":{"datum":0.458},"text":{"field":"label"}}}
 ]
}
]
}
